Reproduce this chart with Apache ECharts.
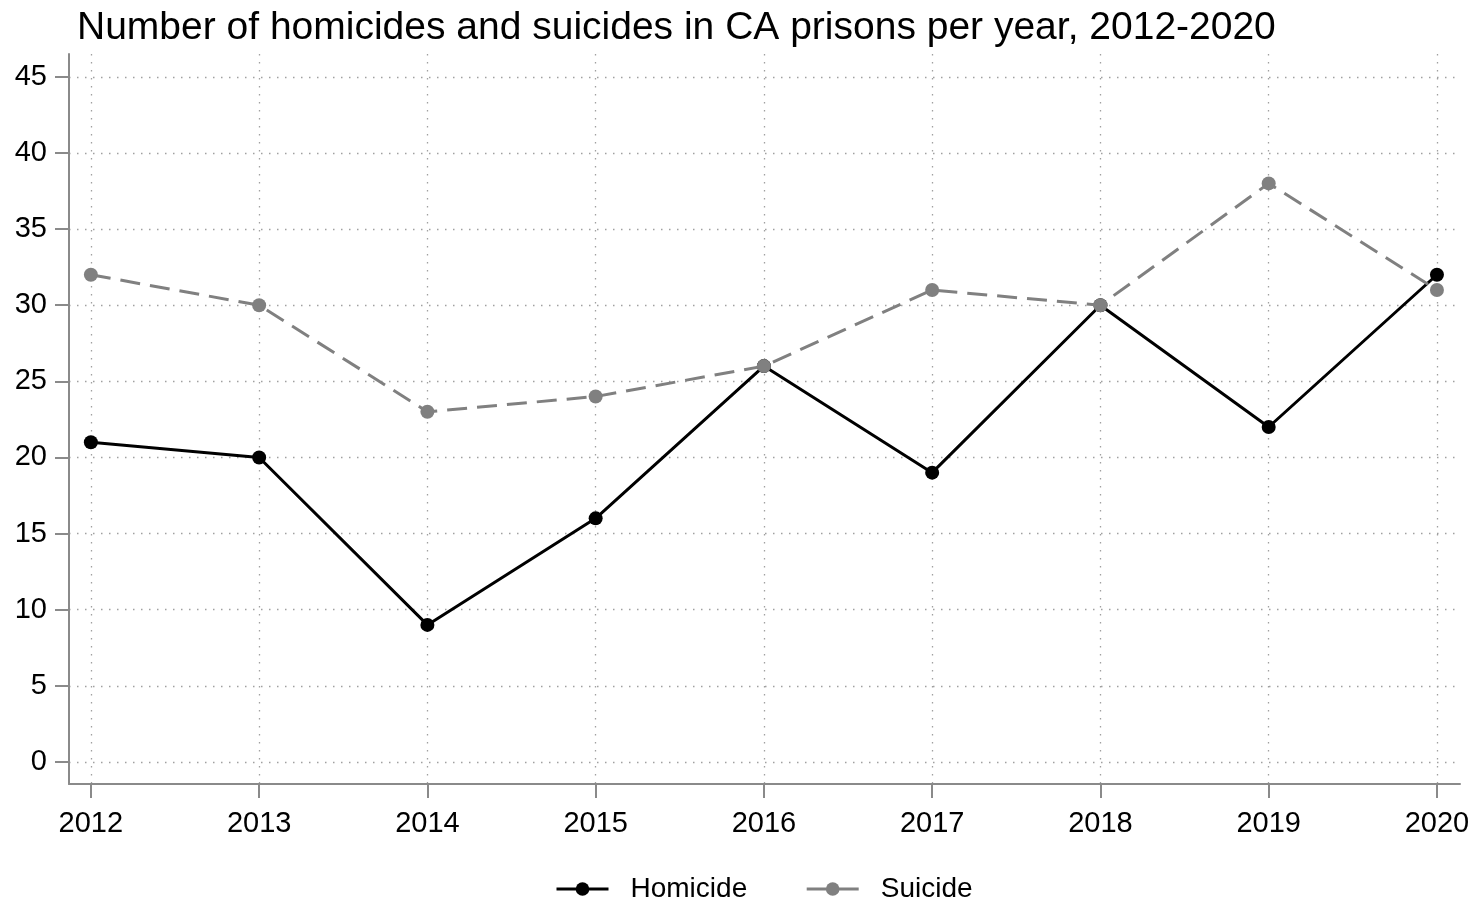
<!DOCTYPE html>
<html>
<head>
<meta charset="utf-8">
<title>Homicides and suicides in CA prisons</title>
<script src="https://cdn.jsdelivr.net/npm/echarts@6/dist/echarts.min.js"></script>
<style>
  html, body { margin: 0; padding: 0; background: #fff; }
  #chart { width: 1473px; height: 901px; }
</style>
</head>
<body>
<div id="chart"></div>
<script>
// Yearly counts, 2012-2020
const years = [2012, 2013, 2014, 2015, 2016, 2017, 2018, 2019, 2020];
const homicide = [21, 20, 9, 16, 26, 19, 30, 22, 32];
const suicide = [32, 30, 23, 24, 26, 31, 30, 38, 31];
const yTicks = [0, 5, 10, 15, 20, 25, 30, 35, 40, 45];

const FONT = '"Liberation Sans", Arial, Helvetica, sans-serif';
const AXIS_GRAY = '#8a8a8a';
const GRID_GRAY = '#a0a0a0';

const chart = echarts.init(document.getElementById('chart'), null, { renderer: 'canvas' });

const toPairs = vals => years.map((y, i) => [y, vals[i]]);

chart.setOption({
  animation: false,
  backgroundColor: '#fff',
  textStyle: { fontFamily: FONT },
  title: {
    text: 'Number of homicides and suicides in CA prisons per year, 2012-2020',
    left: 72,
    top: 4,
    textStyle: { fontFamily: FONT, fontSize: 39, fontWeight: 'normal', color: '#000' }
  },
  legend: {
    top: 870,
    left: 550,
    itemWidth: 52,
    itemHeight: 17,
    itemGap: 58,
    lineStyle: { width: 3, type: 'solid' },
    textStyle: { fontFamily: FONT, fontSize: 28, color: '#000', padding: [0, 0, 0, 17] },
    data: ['Homicide', 'Suicide']
  },
  grid: { left: 69, right: 13, top: 54, bottom: 117, containLabel: false },
  xAxis: {
    type: 'value',
    min: 2011.87,
    max: 2020.137,
    axisLine: { show: true, onZero: false, lineStyle: { color: AXIS_GRAY, width: 2 } },
    axisTick: { show: true, length: 14, customValues: years, lineStyle: { color: AXIS_GRAY, width: 2 } },
    axisLabel: {
      customValues: years, margin: 25, fontSize: 29, color: '#000', fontFamily: FONT,
      formatter: v => String(v)
    },
    splitLine: { show: true, lineStyle: { color: GRID_GRAY, width: 1.3, type: [1.5, 6.5] } }
  },
  yAxis: {
    type: 'value',
    min: -1.45,
    max: 46.5,
    axisLine: { show: true, onZero: false, lineStyle: { color: AXIS_GRAY, width: 2 } },
    axisTick: { show: true, length: 14, customValues: yTicks, lineStyle: { color: AXIS_GRAY, width: 2 } },
    axisLabel: { customValues: yTicks, margin: 22, fontSize: 29, color: '#000', fontFamily: FONT },
    splitLine: { show: true, lineStyle: { color: GRID_GRAY, width: 1.3, type: [1.5, 6.5] } }
  },
  series: [
    {
      name: 'Homicide',
      type: 'line',
      data: toPairs(homicide),
      symbol: 'circle',
      symbolSize: 14,
      itemStyle: { color: '#000' },
      lineStyle: { color: '#000', width: 3, type: 'solid' },
      z: 2
    },
    {
      name: 'Suicide',
      type: 'line',
      data: toPairs(suicide),
      symbol: 'circle',
      symbolSize: 14,
      itemStyle: { color: '#808080' },
      lineStyle: { color: '#808080', width: 3, type: [20, 10] },
      z: 3
    }
  ]
});
</script>
</body>
</html>
